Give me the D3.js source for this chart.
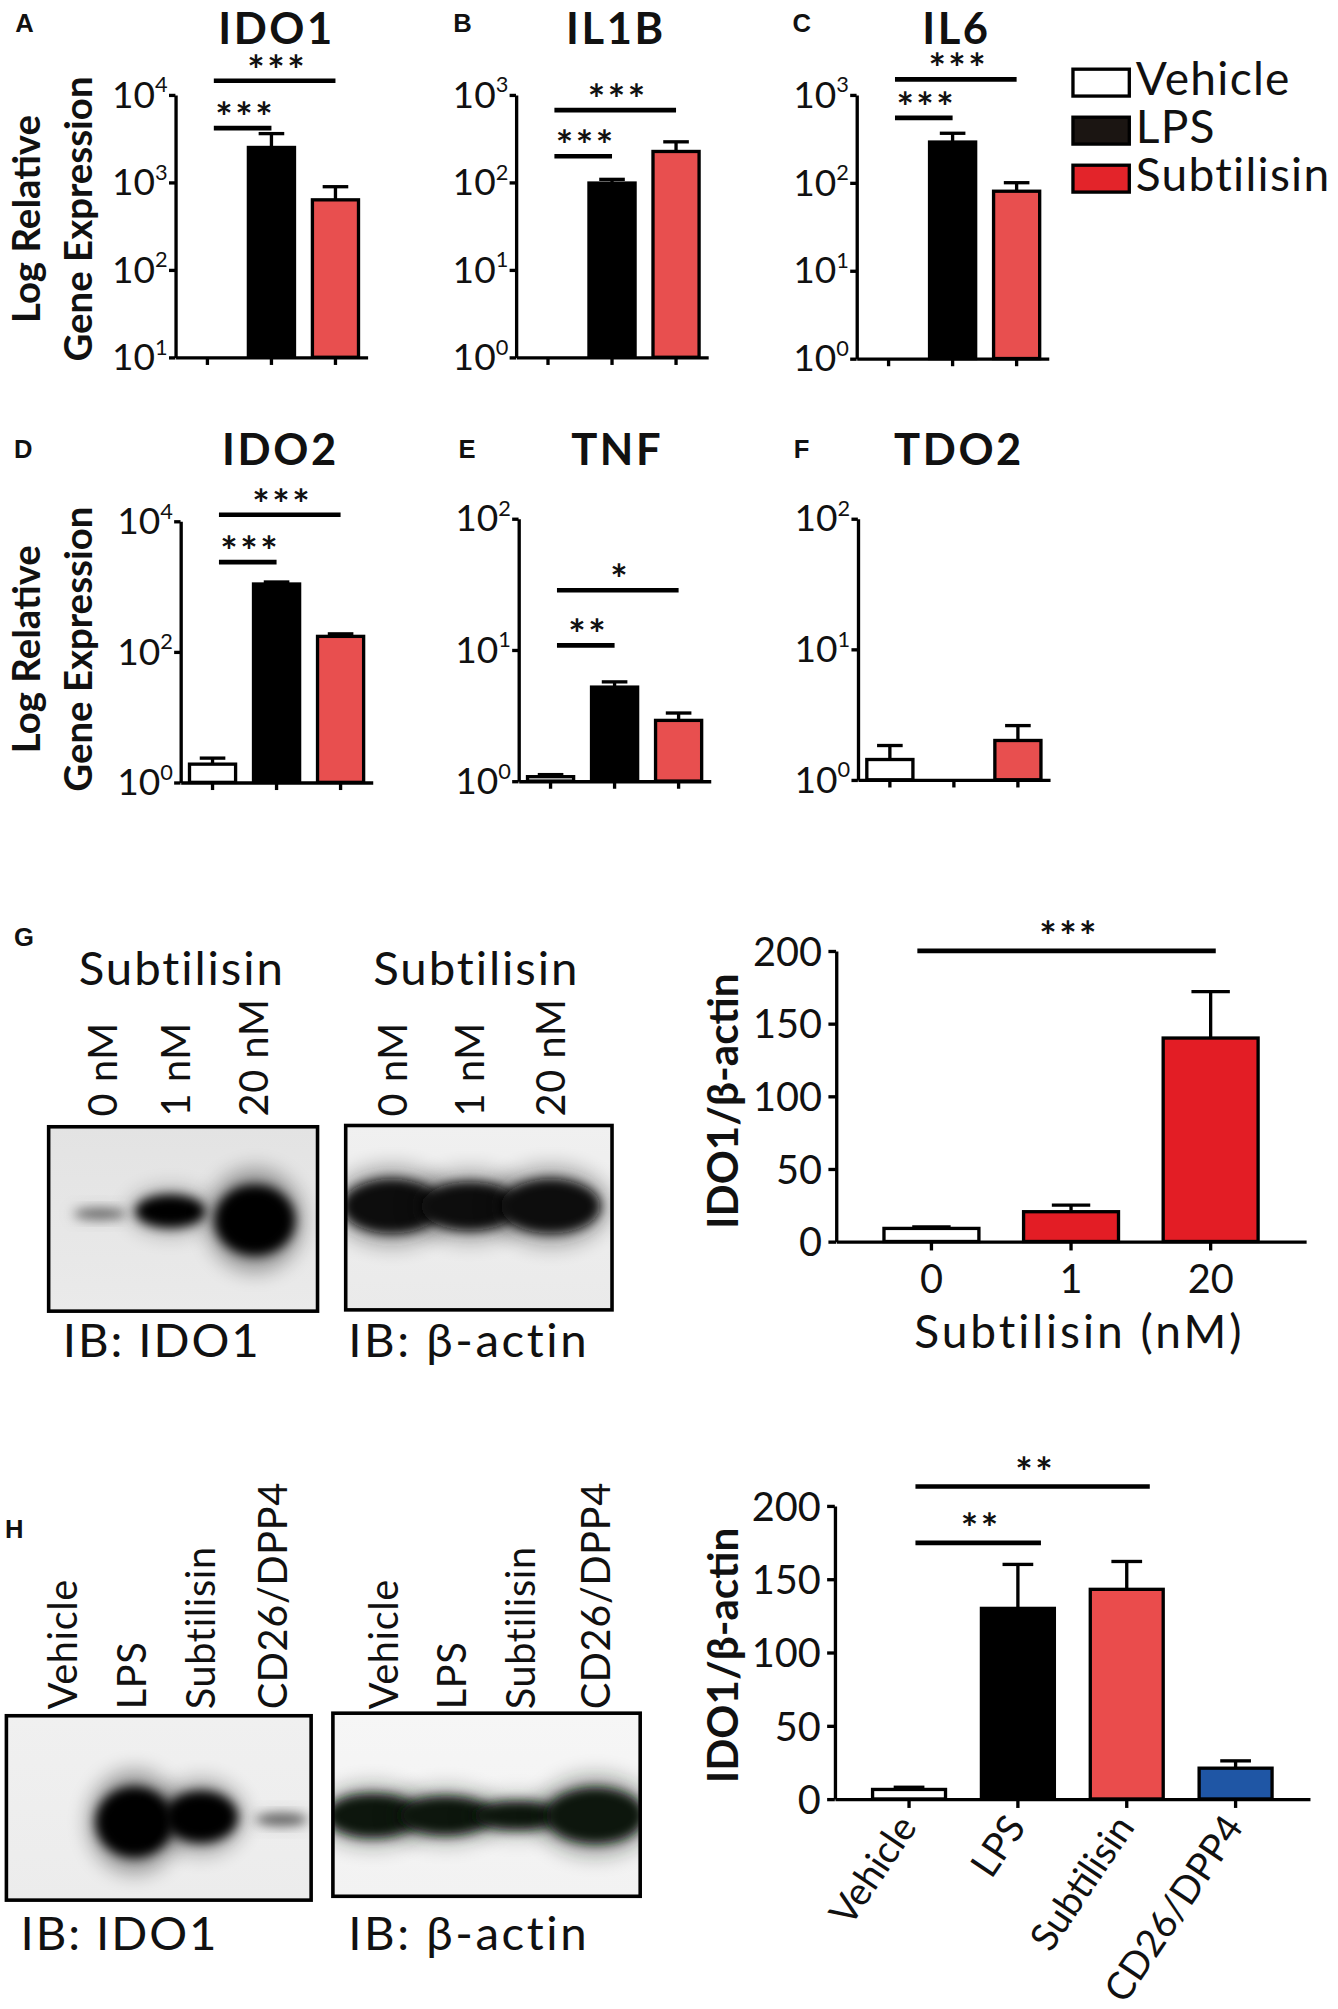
<!DOCTYPE html>
<html><head><meta charset="utf-8">
<script src="https://cdn.jsdelivr.net/npm/d3@7"></script>
<style>body{margin:0;background:#fff}svg{display:block}text{font-family:Lato,'Open Sans',sans-serif;fill:#111}</style>
</head><body><svg id="fig"></svg>
<script>
// ---------------- DATA ----------------
const groups = ["Vehicle", "LPS", "Subtilisin"];
const genes = ["IDO1", "IL1B", "IL6", "IDO2", "TNF", "TDO2"];
const ido1Mean = [1, 2500, 630],   ido1Upper = [1, 3600, 890];
const il1bMean = [1, 98, 225],     il1bUpper = [1, 108, 290];
const il6Mean  = [1, 290, 80],     il6Upper  = [1, 365, 100];
const ido2Mean = [1.9, 1090, 172], ido2Upper = [2.35, 1170, 188];
const tnfMean  = [1.08, 5.2, 2.9], tnfUpper  = [1.12, 5.7, 3.3];
const tdo2Mean = [1.43, 1, 2.0],   tdo2Upper = [1.83, 1, 2.6];
const ido1Ticks = [10, 100, 1000, 10000];
const il1bTicks = [1, 10, 100, 1000];
const il6Ticks  = [1, 10, 100, 1000];
const ido2Ticks = [1, 100, 10000];
const tnfTicks  = [1, 10, 100];
const tdo2Ticks = [1, 10, 100];
const ido1Sig = [{a: 0, b: 1, label: "***"}, {a: 0, b: 2, label: "***"}];
const il1bSig = [{a: 0, b: 1, label: "***"}, {a: 0, b: 2, label: "***"}];
const il6Sig  = [{a: 0, b: 1, label: "***"}, {a: 0, b: 2, label: "***"}];
const ido2Sig = [{a: 0, b: 1, label: "***"}, {a: 0, b: 2, label: "***"}];
const tnfSig  = [{a: 0, b: 1, label: "**"},  {a: 0, b: 2, label: "*"}];
const tdo2Sig = [];

const doseLabels = ["0", "1", "20"];
const doseLanes = ["0 nM", "1 nM", "20 nM"];
const doseMean = [9, 20.5, 140];
const doseUpper = [10, 25, 172];
const doseSig = [{a: 0, b: 2, label: "***"}];
const doseTicks = [0, 50, 100, 150, 200];

const treatLabels = ["Vehicle", "LPS", "Subtilisin", "CD26/DPP4"];
const treatMean = [6.5, 130, 143, 21];
const treatUpper = [8, 160, 162, 26];
const treatSig = [{a: 0, b: 1, label: "**"}, {a: 0, b: 2, label: "**"}];
const treatTicks = [0, 50, 100, 150, 200];

// western blot band intensities (relative, 0..1)
const blotG_IDO1  = [0.25, 0.72, 1.0];
const blotG_actin = [0.92, 0.88, 0.92];
const blotH_IDO1  = [0.0, 1.0, 0.88, 0.3];
const blotH_actin = [0.86, 0.82, 0.72, 0.95];

// ---------------- SETUP ----------------
const W = 1045, H = 1569;
const svg = d3.select("#fig").attr("width", 1338).attr("height", 2009)
  .attr("viewBox", `0 0 ${W} ${H}`);
svg.append("rect").attr("width", W).attr("height", H).attr("fill", "#fff");
const defs = svg.append("defs");
[["blurS", 2.5], ["blurM", 4], ["blurL", 8]].forEach(([id, s]) => {
  defs.append("filter").attr("id", id).attr("x", "-60%").attr("y", "-60%")
    .attr("width", "220%").attr("height", "220%")
    .append("feGaussianBlur").attr("stdDeviation", s);
});

const STROKE = 2.6;
const logFill = ["#ffffff", "#000000", "#e84f4f"];
const LETTER_FONT = "Arial, 'Liberation Sans', sans-serif";

function sigDraw(g, items, xCenter, ys, dx0, dx1, starOff) {
  items.forEach((s, i) => {
    const x0 = xCenter(s.a) + dx0, x1 = xCenter(s.b) + dx1, y = ys[i];
    g.append("line").attr("x1", x0).attr("x2", x1).attr("y1", y).attr("y2", y)
      .attr("stroke", "#000").attr("stroke-width", 3.6);
    g.append("text").attr("x", (x0 + x1) / 2 + 2).attr("y", y + starOff)
      .attr("text-anchor", "middle").attr("font-size", 32).attr("font-weight", 700)
      .attr("letter-spacing", 2).text(s.label);
  });
}

// ---------------- LOG PANELS A-F ----------------
const logPanels = [
  {mean: ido1Mean, up: ido1Upper, ticks: ido1Ticks, sig: ido1Sig, letter: "A", lx: 12, ly: 25, ax: 137, top: 74, bottom: 279, tx: 216, ty: 34, sy: [100, 63]},
  {mean: il1bMean, up: il1bUpper, ticks: il1bTicks, sig: il1bSig, letter: "B", lx: 354, ly: 25, ax: 403, top: 74, bottom: 279, tx: 481, ty: 34, sy: [122, 86]},
  {mean: il6Mean,  up: il6Upper,  ticks: il6Ticks,  sig: il6Sig,  letter: "C", lx: 619, ly: 25, ax: 669, top: 74, bottom: 280, tx: 747, ty: 34, sy: [92, 62]},
  {mean: ido2Mean, up: ido2Upper, ticks: ido2Ticks, sig: ido2Sig, letter: "D", lx: 11, ly: 358, ax: 141, top: 407, bottom: 611, tx: 219, ty: 363, sy: [439, 402]},
  {mean: tnfMean,  up: tnfUpper,  ticks: tnfTicks,  sig: tnfSig,  letter: "E", lx: 358, ly: 358, ax: 405, top: 405, bottom: 610, tx: 482, ty: 363, sy: [504, 461]},
  {mean: tdo2Mean, up: tdo2Upper, ticks: tdo2Ticks, sig: tdo2Sig, letter: "F", lx: 620, ly: 358, ax: 670, top: 405, bottom: 609, tx: 749, ty: 363, sy: []}
];

logPanels.forEach((p, k) => {
  const g = svg.append("g");
  const dom = d3.extent(p.ticks);
  const y = d3.scaleLog().domain(dom).range([p.bottom, p.top]).clamp(true);
  const x = d3.scaleBand().domain(groups).range([p.ax, p.ax + 150]).paddingInner(0.28).paddingOuter(0.14);
  const xc = i => x(groups[i]) + x.bandwidth() / 2;

  g.append("text").attr("x", p.lx).attr("y", p.ly).attr("font-size", 20).attr("font-weight", 700)
    .style("font-family", LETTER_FONT).text(p.letter);
  g.append("text").attr("x", p.tx).attr("y", p.ty).attr("text-anchor", "middle")
    .attr("font-size", 34).attr("font-weight", 700).attr("letter-spacing", 2).text(genes[k]);

  // bars
  p.mean.forEach((v, i) => {
    const h = p.bottom - y(v);
    if (h < 0.5) return;
    const cx = xc(i);
    if (p.up[i] > v) {
      g.append("line").attr("x1", cx).attr("x2", cx).attr("y1", y(v)).attr("y2", y(p.up[i]))
        .attr("stroke", "#000").attr("stroke-width", STROKE);
      g.append("line").attr("x1", cx - 10).attr("x2", cx + 10).attr("y1", y(p.up[i])).attr("y2", y(p.up[i]))
        .attr("stroke", "#000").attr("stroke-width", STROKE);
    }
    g.append("rect").attr("x", x(groups[i])).attr("y", y(v)).attr("width", x.bandwidth()).attr("height", h)
      .attr("fill", logFill[i]).attr("stroke", "#000").attr("stroke-width", STROKE);
  });

  // axes
  const ya = g.append("g").attr("transform", `translate(${p.ax},0)`)
    .call(d3.axisLeft(y).tickValues(p.ticks).tickFormat("").tickSize(5).tickSizeOuter(0));
  const xa = g.append("g").attr("transform", `translate(0,${p.bottom})`)
    .call(d3.axisBottom(x).tickFormat("").tickSize(6).tickSizeOuter(0));
  [ya, xa].forEach(a => a.selectAll("path,line").attr("stroke", "#000").attr("stroke-width", STROKE));

  p.ticks.forEach(v => {
    const t = g.append("text").attr("x", p.ax - 6).attr("y", y(v) + 10).attr("text-anchor", "end")
      .attr("font-size", 29).attr("fill", "#222");
    t.append("tspan").text("10");
    t.append("tspan").attr("dy", -12).attr("font-size", 17).text(Math.round(Math.log10(v)));
  });

  sigDraw(g, p.sig, xc, p.sy, 5, 0, 3);

  if (k === 0 || k === 3) {
    const cy = k === 0 ? 171 : 507;
    g.append("text").attr("transform", `translate(31,${cy}) rotate(-90)`).attr("text-anchor", "middle")
      .attr("font-size", 30).attr("font-weight", 700).text("Log Relative");
    g.append("text").attr("transform", `translate(72,${cy}) rotate(-90)`).attr("text-anchor", "middle")
      .attr("font-size", 30).attr("font-weight", 700).text("Gene Expression");
  }
});

// legend
const legendFill = ["#ffffff", "#1b1512", "#e3242a"];
groups.forEach((gname, i) => {
  const yTop = 54 + i * 37.5;
  svg.append("rect").attr("x", 838).attr("y", yTop).attr("width", 44).attr("height", 21)
    .attr("fill", legendFill[i]).attr("stroke", "#000").attr("stroke-width", STROKE);
  svg.append("text").attr("x", 887).attr("y", yTop + 20.5).attr("font-size", 36)
    .attr("letter-spacing", 1).text(gname);
});

// ---------------- BLOTS ----------------
function drawBlot(box, laneX, inten, bandY, opts) {
  const id = "clip" + Math.round(box.x) + "_" + Math.round(box.y);
  defs.append("clipPath").attr("id", id).append("rect")
    .attr("x", box.x).attr("y", box.y).attr("width", box.w).attr("height", box.h);
  const gradId = "grad" + id;
  const gr = defs.append("linearGradient").attr("id", gradId).attr("x1", 0).attr("y1", 0).attr("x2", 0).attr("y2", 1);
  gr.append("stop").attr("offset", "0%").attr("stop-color", opts.bgTop);
  gr.append("stop").attr("offset", "100%").attr("stop-color", opts.bgBot);
  const g = svg.append("g").attr("clip-path", `url(#${id})`);
  g.append("rect").attr("x", box.x).attr("y", box.y).attr("width", box.w).attr("height", box.h)
    .attr("fill", `url(#${gradId})`);
  const spacing = laneX.length > 1 ? laneX[1] - laneX[0] : 50;
  inten.forEach((I, i) => {
    if (I <= 0) return;
    const rx = spacing * 0.5 * (0.6 + 0.55 * I) * (opts.wide || 1);
    const ry = (4 + 24 * Math.pow(I, 3)) * (opts.tall || 1);
    const cy = bandY + (opts.dy ? opts.dy[i] : 0);
    g.append("ellipse").attr("cx", laneX[i]).attr("cy", cy).attr("rx", rx * 1.2).attr("ry", ry * 1.45)
      .attr("fill", opts.color).attr("opacity", 0.35 * I).attr("filter", "url(#blurL)");
    g.append("ellipse").attr("cx", laneX[i]).attr("cy", cy).attr("rx", rx).attr("ry", ry)
      .attr("fill", opts.color).attr("opacity", Math.min(1, 0.25 + 1.1 * I)).attr("filter", "url(#blurM)");
  });
  svg.append("rect").attr("x", box.x).attr("y", box.y).attr("width", box.w).attr("height", box.h)
    .attr("fill", "none").attr("stroke", "#000").attr("stroke-width", 2.8);
}

function laneLabels(lanes, centers, yBottom, fs) {
  lanes.forEach((l, i) => {
    svg.append("text").attr("transform", `translate(${centers[i] + fs * 0.36},${yBottom}) rotate(-90)`)
      .attr("font-size", fs).attr("letter-spacing", 0.5).text(l);
  });
}

// G blots
svg.append("text").attr("x", 11).attr("y", 739).attr("font-size", 20).attr("font-weight", 700)
  .style("font-family", LETTER_FONT).text("G");
svg.append("text").attr("x", 142).attr("y", 769).attr("text-anchor", "middle").attr("font-size", 37)
  .attr("letter-spacing", 1.5).text("Subtilisin");
svg.append("text").attr("x", 372).attr("y", 769).attr("text-anchor", "middle").attr("font-size", 37)
  .attr("letter-spacing", 1.5).text("Subtilisin");
laneLabels(doseLanes, [80, 137, 198], 872, 31);
laneLabels(doseLanes, [307, 367, 430], 872, 31);
drawBlot({x: 38, y: 880, w: 210, h: 144}, [78, 133, 199], blotG_IDO1, 948,
  {bgTop: "#e3e3e3", bgBot: "#eaeaea", color: "#050505", dy: [0, -2, 5]});
drawBlot({x: 270, y: 879, w: 208, h: 144}, [306, 367, 430], blotG_actin, 942,
  {bgTop: "#f0f0f0", bgBot: "#eaeaea", color: "#080808", wide: 1.15, tall: 0.95});
svg.append("text").attr("x", 49).attr("y", 1060).attr("font-size", 37).attr("letter-spacing", 1.5).text("IB: IDO1");
svg.append("text").attr("x", 272).attr("y", 1060).attr("font-size", 37).attr("letter-spacing", 2).text("IB: β-actin");

// H blots
svg.append("text").attr("x", 4).attr("y", 1201).attr("font-size", 20).attr("font-weight", 700)
  .style("font-family", LETTER_FONT).text("H");
laneLabels(treatLabels, [49, 103, 157, 213], 1335, 31);
laneLabels(treatLabels, [300, 353, 407, 465], 1335, 31);
drawBlot({x: 5, y: 1340, w: 238, h: 144}, [52, 105, 157, 220], blotH_IDO1, 1421,
  {bgTop: "#f0f0f0", bgBot: "#ececec", color: "#040404", dy: [0, 2, -2, 0]});
drawBlot({x: 260, y: 1338, w: 240, h: 143}, [291, 348, 404, 465], blotH_actin, 1418,
  {bgTop: "#f6f6f6", bgBot: "#f2f2f2", color: "#07130f", wide: 1.2, tall: 0.9});
svg.append("text").attr("x", 16).attr("y", 1523).attr("font-size", 37).attr("letter-spacing", 1.5).text("IB: IDO1");
svg.append("text").attr("x", 272).attr("y", 1523).attr("font-size", 37).attr("letter-spacing", 2).text("IB: β-actin");

// ---------------- LINEAR BAR CHARTS G / H ----------------
function linChart(cfg) {
  const g = svg.append("g");
  const y = d3.scaleLinear().domain([0, 200]).range([cfg.bottom, cfg.top]);
  const x = d3.scaleBand().domain(cfg.labels).range([cfg.ax, cfg.xEnd])
    .paddingInner(cfg.pi).paddingOuter(cfg.po);
  const xc = i => x(cfg.labels[i]) + x.bandwidth() / 2;
  cfg.mean.forEach((v, i) => {
    const cx = xc(i);
    g.append("line").attr("x1", cx).attr("x2", cx).attr("y1", y(v)).attr("y2", y(cfg.upper[i]))
      .attr("stroke", "#000").attr("stroke-width", STROKE);
    g.append("line").attr("x1", cx - cfg.cap).attr("x2", cx + cfg.cap).attr("y1", y(cfg.upper[i])).attr("y2", y(cfg.upper[i]))
      .attr("stroke", "#000").attr("stroke-width", STROKE);
    g.append("rect").attr("x", x(cfg.labels[i])).attr("y", y(v)).attr("width", x.bandwidth())
      .attr("height", cfg.bottom - y(v)).attr("fill", cfg.fills[i]).attr("stroke", "#000").attr("stroke-width", STROKE);
  });
  const ya = g.append("g").attr("transform", `translate(${cfg.ax},0)`)
    .call(d3.axisLeft(y).tickValues(cfg.ticks).tickSize(6).tickSizeOuter(0).tickPadding(5));
  const xa = g.append("g").attr("transform", `translate(0,${cfg.bottom})`)
    .call(d3.axisBottom(x).tickSize(7).tickSizeOuter(0).tickPadding(8));
  [ya, xa].forEach(a => {
    a.selectAll("path,line").attr("stroke", "#000").attr("stroke-width", STROKE);
    a.selectAll("text").attr("font-size", 31).attr("fill", "#222").style("font-family", "Lato,'Open Sans',sans-serif");
  });
  ya.selectAll("text").attr("dy", "0.36em");
  if (cfg.rotate) {
    xa.selectAll("text").attr("text-anchor", "end").attr("dy", 0).attr("y", 0)
      .attr("font-size", 30)
      .attr("transform", "translate(7,22) rotate(-56)");
  } else {
    xa.selectAll("text").attr("dy", 0).attr("y", 40);
  }
  g.append("text").attr("transform", `translate(${cfg.ylx},${cfg.yly}) rotate(-90)`).attr("text-anchor", "middle")
    .attr("font-size", 33).attr("font-weight", 700).text("IDO1/β-actin");
  sigDraw(g, cfg.sig, xc, cfg.sy, cfg.dx0, cfg.dx1, 0);
  return g;
}

linChart({labels: doseLabels, mean: doseMean, upper: doseUpper, ticks: doseTicks, sig: doseSig,
  fills: ["#ffffff", "#e31d25", "#e31d25"], ax: 653, xEnd: 1020, top: 742.6, bottom: 969.6,
  pi: 0.32, po: 0.343, cap: 15, ylx: 576, yly: 860, sy: [742.6], dx0: -11, dx1: 4, rotate: false});
svg.append("text").attr("x", 843).attr("y", 1053).attr("text-anchor", "middle").attr("font-size", 36)
  .attr("letter-spacing", 2.3).text("Subtilisin (nM)");

linChart({labels: treatLabels, mean: treatMean, upper: treatUpper, ticks: treatTicks, sig: treatSig,
  fills: ["#ffffff", "#000000", "#ea4c4c", "#1f56a5"], ax: 652, xEnd: 1023, top: 1176, bottom: 1405,
  pi: 0.33, po: 0.347, cap: 12, ylx: 576, yly: 1293, sy: [1205, 1161], dx0: 5, dx1: 18, rotate: true});
</script></body></html>
